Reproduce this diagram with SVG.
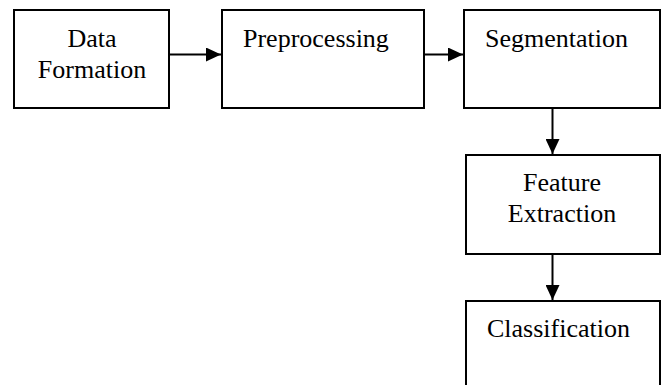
<svg xmlns="http://www.w3.org/2000/svg" width="664" height="385" viewBox="0 0 664 385">
<style>
.box{fill:#fff;stroke:#000;stroke-width:2}
.t{font-family:"Liberation Serif","Times New Roman",serif;font-size:26px;fill:#000}
.c{stroke:#000;stroke-width:2;fill:none}
</style>
<defs>
<marker id="ah" markerUnits="userSpaceOnUse" markerWidth="16" markerHeight="14" refX="15" refY="7" orient="auto">
<path d="M0,0 L15,7 L0,14 Z" fill="#000"/>
</marker>
</defs>
<rect width="664" height="385" fill="#fff"/>
<g id="n1"><rect class="box" x="14" y="10" width="155" height="98"/>
<text class="t" x="92" y="46.5" text-anchor="middle">Data</text>
<text class="t" x="92" y="77.5" text-anchor="middle">Formation</text></g>
<g id="n2"><rect class="box" x="222" y="10" width="202" height="98"/>
<text class="t" x="243" y="46.5">Preprocessing</text></g>
<g id="n3"><rect class="box" x="464" y="10" width="196" height="98"/>
<text class="t" x="485" y="46.5">Segmentation</text></g>
<g id="n4"><rect class="box" x="466" y="155" width="194" height="99"/>
<text class="t" x="562" y="190.5" text-anchor="middle">Feature</text>
<text class="t" x="562" y="221.5" text-anchor="middle">Extraction</text></g>
<g id="n5"><rect class="box" x="466" y="301" width="194" height="95"/>
<text class="t" x="487" y="336.5">Classification</text></g>
<g id="connectors">
<line class="c" x1="169" y1="54.5" x2="221" y2="54.5" marker-end="url(#ah)"/>
<line class="c" x1="424" y1="54.5" x2="463" y2="54.5" marker-end="url(#ah)"/>
<line class="c" x1="552.5" y1="108" x2="552.5" y2="154" marker-end="url(#ah)"/>
<line class="c" x1="552.5" y1="254" x2="552.5" y2="300" marker-end="url(#ah)"/>
</g>
</svg>
